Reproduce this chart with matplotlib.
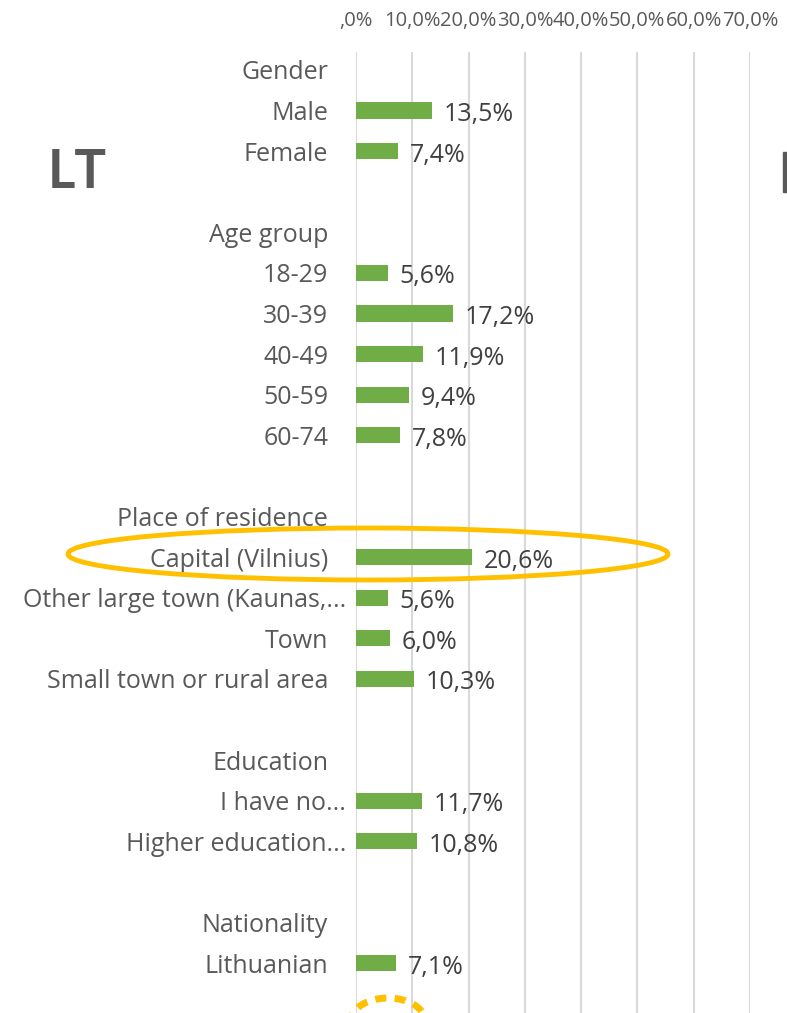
#!/usr/bin/env python3
import matplotlib
matplotlib.use("Agg")
import matplotlib.pyplot as plt
from matplotlib.patches import Ellipse, Rectangle
from matplotlib.transforms import ScaledTranslation

# rows top to bottom; None means a header / spacer row without a bar
labels = [
    "Gender", "Male", "Female", "",
    "Age group", "18-29", "30-39", "40-49", "50-59", "60-74", "",
    "Place of residence", "Capital (Vilnius)", "Other large town (Kaunas,...", "Town",
    "Small town or rural area", "",
    "Education", "I have no...", "Higher education...", "",
    "Nationality", "Lithuanian",
]
values = [
    None, 13.5, 7.4, None,
    None, 5.6, 17.2, 11.9, 9.4, 7.8, None,
    None, 20.6, 5.6, 6.0, 10.3, None,
    None, 11.7, 10.8, None,
    None, 7.1,
]
x_ticks = [0, 10, 20, 30, 40, 50, 60, 70]

TEXT = "#595959"
VALUE = "#404040"
GREEN = "#70AD47"
GRID = "#D9D9D9"
GOLD = "#FFC000"

plt.rcParams["font.family"] = ["Open Sans", "DejaVu Sans"]


def pct(v):
    s = f"{v:.1f}%".replace(".", ",")
    return s[1:] if s.startswith("0,") else s


W, H = 787, 1013
fig = plt.figure(figsize=(W / 100, H / 100), dpi=100)
ax = fig.add_axes([356 / W, 0, (750 - 356) / W, 1 - 52 / H])

rows = list(range(len(labels)))
for i, v in zip(rows, values):
    if v is None:
        continue
    ax.barh(i, v, height=0.4, color=GREEN, zorder=3)
    ax.annotate(pct(v), (v, i), xytext=(12, -4),
                textcoords="offset pixels", ha="left", va="center",
                fontsize=18, color=VALUE)

ax.set_xlim(0, 70)
ax.set_ylim(23.23, -0.44)
ax.set_xticks(x_ticks)
ax.set_xticklabels([pct(t) for t in x_ticks])
ax.xaxis.tick_top()
ax.tick_params(axis="x", length=0, pad=15, labelsize=14.5, labelcolor=TEXT)
ax.set_yticks(rows)
ax.set_yticklabels(labels)
ax.tick_params(axis="y", length=0, pad=20, labelsize=18, labelcolor=TEXT)
for tl in ax.get_yticklabels():
    if tl.get_text().endswith("..."):
        tl.set_transform(tl.get_transform() + ScaledTranslation(18 / 100, 0, fig.dpi_scale_trans))

ax.grid(axis="x", color=GRID, linewidth=1.5, zorder=0)
for s in ax.spines.values():
    s.set_visible(False)

# big country label, plus the edge of the neighbouring panel's label
fig.text(48 / W, 1 - 173 / H, "LT", fontsize=38, fontweight="bold", color=TEXT,
         family="Lato", ha="left", va="center")
fig.patches.append(Rectangle((783 / W, 1 - 192 / H), 5 / W, 40 / H,
                             transform=fig.transFigure, color=TEXT))

# highlight ellipses
fig.patches.append(Ellipse((368 / W, 1 - 554 / H), 600 / W, 52 / H, transform=fig.transFigure,
                           fill=False, edgecolor=GOLD, linewidth=3.5))
fig.patches.append(Ellipse((388 / W, -8 / H), 74 / W, 46 / H, transform=fig.transFigure,
                           fill=False, edgecolor=GOLD, linewidth=5, linestyle=(0, (1.6, 1.2))))

fig.savefig("out.png", dpi=100)
